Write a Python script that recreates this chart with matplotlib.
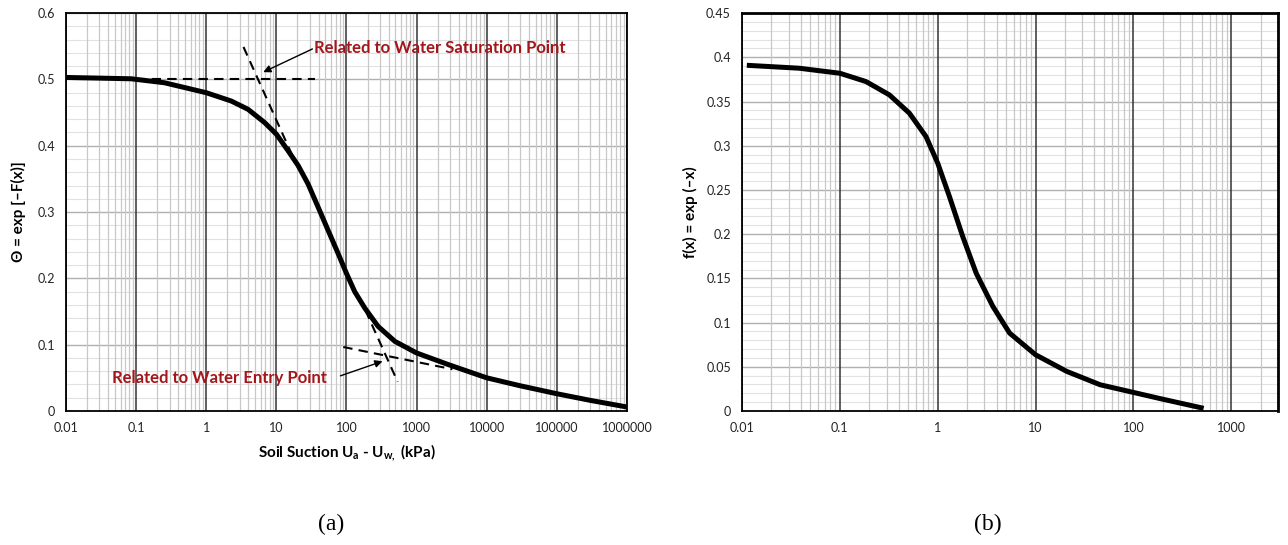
import matplotlib
matplotlib.use("Agg")
import matplotlib.pyplot as plt
from matplotlib.ticker import FixedLocator, MultipleLocator, NullFormatter

plt.rcParams['font.family'] = ['Lato', 'DejaVu Sans']
plt.rcParams['mathtext.fontset'] = 'custom'
plt.rcParams['mathtext.rm'] = 'Lato'
plt.rcParams['mathtext.bf'] = 'Lato:bold'

# (a) soil-water characteristic curve
suction = [0.01, 0.03, 0.085, 0.254, 1, 2.27, 3.94, 6.8, 10, 14.7, 20.5, 28.3, 39.4, 54.7,
           76, 100, 131, 183, 283, 490, 1000, 2830, 10000, 30000, 100000, 300000, 1000000]
theta = [0.503, 0.502, 0.501, 0.495, 0.48, 0.4675, 0.455, 0.435, 0.4175, 0.3925, 0.37,
         0.3425, 0.3075, 0.2725, 0.2375, 0.2075, 0.18, 0.155, 0.1275, 0.105, 0.0875, 0.07,
         0.05, 0.038, 0.026, 0.016, 0.006]

# tangent construction lines
sat_h_x, sat_h_y = [0.1, 36], [0.5, 0.5]
sat_t_x, sat_t_y = [3.4, 20], [0.549, 0.368]
entry_t_x, entry_t_y = [186, 537], [0.152, 0.044]
entry_h_x, entry_h_y = [90, 3240], [0.0965, 0.063]

# (b) normalised function
x_b = [0.0112, 0.0383, 0.1, 0.185, 0.321, 0.514, 0.759, 1.0, 1.317, 1.8, 2.47, 3.66, 5.43,
       10, 20.8, 45.6, 100, 187.5, 522]
f_b = [0.391, 0.3877, 0.382, 0.3726, 0.3575, 0.3368, 0.3104, 0.2803, 0.2426, 0.1974, 0.156,
       0.1183, 0.0881, 0.0636, 0.0448, 0.0297, 0.0210, 0.0140, 0.003]

ticks_a = [0.01, 0.1, 1, 10, 100, 1000, 10000, 100000, 1000000]
labels_a = ['0.01', '0.1', '1', '10', '100', '1000', '10000', '100000', '1000000']
ticks_b = [0.01, 0.1, 1, 10, 100, 1000]
labels_b = ['0.01', '0.1', '1', '10', '100', '1000']
yticks_a = [0, 0.1, 0.2, 0.3, 0.4, 0.5, 0.6]
ylabels_a = ['0', '0.1', '0.2', '0.3', '0.4', '0.5', '0.6']
yticks_b = [0, 0.05, 0.1, 0.15, 0.2, 0.25, 0.3, 0.35, 0.4, 0.45]
ylabels_b = ['0', '0.05', '0.1', '0.15', '0.2', '0.25', '0.3', '0.35', '0.4', '0.45']

red = '#a3161b'

fig = plt.figure(figsize=(12.88, 5.45), dpi=100)
ax1 = fig.add_axes([0.0512, 0.2459, 0.4356, 0.730])
ax2 = fig.add_axes([0.5761, 0.2459, 0.4161, 0.730])


def style(ax, xt, xl, yt, yl, ymin_step):
    ax.set_xscale('log')
    ax.xaxis.set_major_locator(FixedLocator(xt))
    ax.set_xticks(xt)
    ax.set_xticklabels(xl)
    ax.xaxis.set_minor_formatter(NullFormatter())
    ax.set_yticks(yt)
    ax.set_yticklabels(yl)
    ax.yaxis.set_minor_locator(MultipleLocator(ymin_step))
    ax.grid(which='major', axis='x', color='#333333', lw=1.1)
    ax.grid(which='minor', axis='x', color='#c8c8c8', lw=0.9)
    ax.grid(which='major', axis='y', color='#b0b0b0', lw=1.0)
    ax.grid(which='minor', axis='y', color='#e2e2e2', lw=0.8)
    ax.set_axisbelow(True)
    # vertical lines drawn over the horizontal ones
    ax.yaxis.set_zorder(0.4)
    ax.xaxis.set_zorder(0.6)
    ax.tick_params(which='both', length=0, labelsize=9, colors='#222222')
    ax.tick_params(axis='y', pad=8)
    ax.tick_params(axis='x', pad=8)
    for s in ax.spines.values():
        s.set_color('black')
        s.set_linewidth(1.3)


style(ax1, ticks_a, labels_a, yticks_a, ylabels_a, 0.02)
ax1.set_xlim(0.01, 1000000)
ax1.set_ylim(0, 0.6)
ax1.plot(suction, theta, color='black', lw=3.6, solid_capstyle='butt', solid_joinstyle='round')
dash = dict(color='black', lw=1.5, dashes=(4.5, 3))
ax1.plot(sat_h_x, sat_h_y, **dash)
ax1.plot(sat_t_x, sat_t_y, **dash)
ax1.plot(entry_t_x, entry_t_y, **dash)
ax1.plot(entry_h_x, entry_h_y, **dash)
arrow = dict(arrowstyle='-|>', color='black', lw=1.0, mutation_scale=11, shrinkA=0, shrinkB=0)
ax1.annotate('', xy=(6.5, 0.511), xytext=(32.7, 0.546), arrowprops=arrow)
ax1.annotate('', xy=(327, 0.075), xytext=(82, 0.053), arrowprops=arrow)
ax1.text(35, 0.548, 'Related to Water Saturation Point', color=red, fontsize=12,
         fontweight='bold', ha='left', va='center')
ax1.text(0.045, 0.05, 'Related to Water Entry Point', color=red, fontsize=12,
         fontweight='bold', ha='left', va='center')
ax1.set_xlabel(r'Soil Suction U$_{\mathbf{a}}$ - U$_{\mathbf{w,}}$ (kPa)', fontsize=11,
               fontweight='bold', labelpad=6)
ax1.set_ylabel('Θ = exp [–F(x)]', fontsize=11, fontweight='bold', labelpad=8)

style(ax2, ticks_b, labels_b, yticks_b, ylabels_b, 0.01)
ax2.set_xlim(0.01, 3000)
ax2.set_ylim(0, 0.45)
ax2.plot(x_b, f_b, color='black', lw=3.6, solid_capstyle='butt', solid_joinstyle='round')
ax2.set_ylabel('f(x) = exp (–x)', fontsize=11, fontweight='bold', labelpad=6)
ax2.spines['top'].set_linewidth(2)
ax2.spines['right'].set_linewidth(2)

fig.text(0.257, 0.037, '(a)', fontsize=17, family='Liberation Serif', ha='center', va='center')
fig.text(0.767, 0.037, '(b)', fontsize=17, family='Liberation Serif', ha='center', va='center')

fig.savefig('out.png', dpi=100)
